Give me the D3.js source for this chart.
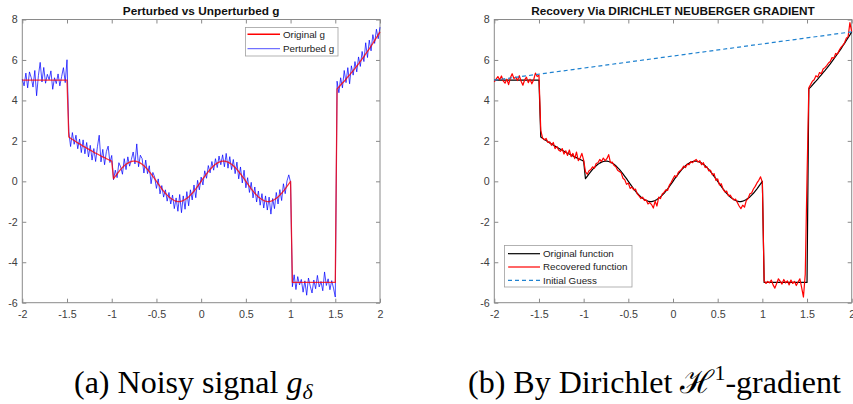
<!DOCTYPE html>
<html>
<head>
<meta charset="utf-8">
<script src="https://cdn.jsdelivr.net/npm/d3@7"></script>
<style>
  html, body { margin: 0; padding: 0; background: #fff; }
  svg { display: block; }
</style>
</head>
<body>
<script>
// Tick labels on both panels
const xTicks = [-2, -1.5, -1, -0.5, 0, 0.5, 1, 1.5, 2];
const yTicks = [-6, -4, -2, 0, 2, 4, 6, 8];

// Sample positions: -2 to 2 in steps of 0.02 (201 samples)
const xValues = d3.range(201).map(i => +(-2 + i * 0.02).toFixed(2));

// Original signal g
const originalG = [
  5, 5, 5, 5, 5, 5, 5, 5, 5, 5, 5, 5, 5, 5, 5, 5, 5, 5, 5, 5, 5, 5, 5, 5, 5, 5,
  2.19, 2.13, 2.07, 2.02, 1.96, 1.90, 1.85, 1.80, 1.74, 1.69, 1.64, 1.59, 1.54, 1.49, 1.44, 1.39, 1.35, 1.30, 1.25, 1.21, 1.17, 1.12, 1.08, 1.04, 1.00,
  0.13, 0.25, 0.37, 0.48, 0.59, 0.68, 0.77, 0.84, 0.90, 0.95, 0.98, 1.00, 1.00, 0.98, 0.95, 0.90, 0.84, 0.77, 0.68, 0.59, 0.48, 0.37, 0.25, 0.13, 0,
  -0.13, -0.25, -0.37, -0.48, -0.59, -0.68, -0.77, -0.84, -0.90, -0.95, -0.98, -1.00, -1.00, -0.98, -0.95, -0.90, -0.84, -0.77, -0.68, -0.59, -0.48, -0.37, -0.25, -0.13, 0,
  0.13, 0.25, 0.37, 0.48, 0.59, 0.68, 0.77, 0.84, 0.90, 0.95, 0.98, 1.00, 1.00, 0.98, 0.95, 0.90, 0.84, 0.77, 0.68, 0.59, 0.48, 0.37, 0.25, 0.13, 0,
  -0.13, -0.25, -0.37, -0.48, -0.59, -0.68, -0.77, -0.84, -0.90, -0.95, -0.98, -1.00, -1.00, -0.98, -0.95, -0.90, -0.84, -0.77, -0.68, -0.59, -0.48, -0.37, -0.25, -0.13, 0,
  -5, -5, -5, -5, -5, -5, -5, -5, -5, -5, -5, -5, -5, -5, -5, -5, -5, -5, -5, -5, -5, -5, -5, -5, -5,
  4.57, 4.66, 4.76, 4.86, 4.95, 5.05, 5.16, 5.26, 5.37, 5.47, 5.58, 5.70, 5.81, 5.93, 6.05, 6.17, 6.30, 6.42, 6.55, 6.69, 6.82, 6.96, 7.10, 7.24, 7.39
];

// Noisy signal g_delta
const perturbedG = [
  5.05, 4.72, 5.35, 4.62, 5.41, 5.12, 4.66, 5.48, 4.23, 5.22, 5.88, 4.91, 5.63, 4.85, 5.29, 5.02, 5.46, 4.55, 5.12, 4.83, 5.31, 4.72, 5.18, 5.62, 4.88, 6.01,
  2.45, 1.72, 2.41, 1.83, 2.28, 1.61, 2.09, 1.42, 2.05, 1.36, 1.92, 1.21, 1.78, 1.05, 1.62, 0.98, 1.71, 2.28, 0.96, 1.58, 0.82, 1.47, 1.74, 0.93, 1.28,
  0.08, 0.55, 0.18, 0.92, 0.71, 0.35, 1.12, 0.58, 1.21, 0.75, 1.08, 1.45, 0.86, 1.85, 0.72, 1.29, 1.12, 0.41, 1.05, 0.38, 0.77, -0.12, 0.44, 0.21, -0.35,
  0.12, -0.62, -0.21, -0.78, -0.42, -0.98, -0.55, -1.12, -0.68, -1.35, -0.82, -1.48, -0.65, -1.55, -0.72, -1.38, -0.51, -1.21, -0.42, -0.92, -0.18, -0.81, 0.05, -0.42, 0.21,
  -0.18, 0.52, 0.15, 0.78, 0.42, 0.98, 0.55, 1.12, 0.68, 1.25, 0.82, 1.31, 0.72, 1.38, 0.65, 1.22, 0.58, 1.08, 0.38, 0.95, 0.12, 0.71, -0.08, 0.55, -0.32,
  0.18, -0.55, -0.05, -0.82, -0.28, -1.02, -0.48, -1.18, -0.61, -1.32, -0.72, -1.42, -0.78, -1.62, -0.85, -1.35, -0.55, -1.12, -0.41, -0.95, -0.12, -0.61, 0.02, 0.32, -0.05,
  -5.21, -4.62, -5.35, -4.71, -5.12, -4.85, -5.48, -4.92, -5.63, -4.78, -5.18, -5.52, -4.88, -5.31, -4.65, -5.22, -4.95, -5.41, -4.48, -5.15, -4.82, -5.36, -4.91, -5.28, -5.72,
  4.95, 4.38, 5.12, 4.62, 5.48, 4.88, 5.62, 4.82, 5.71, 5.25, 5.92, 5.41, 6.15, 5.68, 6.42, 5.92, 6.85, 6.12, 6.98, 6.45, 7.25, 6.82, 7.52, 7.05, 7.62
];

// Recovered function after the Dirichlet Neuberger gradient iterations
const recoveredG = [
  4.92, 5.05, 5.18, 5.02, 5.21, 4.96, 4.85, 5.05, 4.78, 5.12, 5.32, 5.08, 5.15, 4.98, 5.22, 4.95, 4.75, 5.02, 5.15, 4.88, 5.05, 4.82, 5.01, 5.35, 5.18, 5.25,
  2.52, 2.15, 2.05, 2.12, 1.92, 1.95, 1.78, 1.92, 1.62, 1.72, 1.55, 1.48, 1.62, 1.35, 1.51, 1.28, 1.55, 1.22, 1.38, 1.12, 1.45, 1.02, 1.15, 1.38, 1.05,
  0.48, 0.35, 0.52, 0.58, 0.72, 0.65, 0.88, 0.92, 1.08, 0.98, 1.15, 1.02, 1.12, 1.32, 0.92, 0.95, 0.78, 0.72, 0.55, 0.48, 0.42, 0.15, 0.08, -0.15, -0.08,
  -0.35, -0.28, -0.42, -0.38, -0.62, -0.72, -0.85, -0.78, -0.95, -0.92, -1.12, -1.05, -1.15, -1.32, -0.98, -1.22, -0.78, -0.85, -0.62, -0.55, -0.42, -0.45, -0.18, -0.05, 0.12,
  0.28, 0.22, 0.45, 0.52, 0.62, 0.75, 0.68, 0.85, 0.82, 0.98, 0.92, 1.02, 1.08, 0.95, 1.02, 0.82, 0.92, 0.68, 0.72, 0.52, 0.55, 0.32, 0.38, 0.05, 0.12,
  -0.18, -0.12, -0.38, -0.52, -0.48, -0.72, -0.68, -0.82, -0.92, -0.88, -1.05, -1.22, -1.35, -1.18, -1.28, -0.95, -0.85, -0.62, -0.58, -0.38, -0.25, -0.08, 0.05, 0.22, -0.05,
  -4.92, -5.05, -4.95, -5.02, -4.88, -5.12, -5.28, -5.05, -4.82, -4.95, -5.08, -4.85, -5.02, -4.92, -5.12, -4.88, -5.05, -4.95, -5.15, -4.98, -4.82, -5.25, -5.72, -4.60, 0.20,
  4.62, 4.78, 4.95, 5.02, 5.22, 5.15, 5.38, 5.32, 5.55, 5.62, 5.72, 5.85, 5.92, 6.12, 6.08, 6.32, 6.28, 6.48, 6.62, 6.72, 6.85, 7.08, 7.15, 7.85, 7.39
];

// Initial guess: straight line joining the two boundary values
const initialGuessX = [-2, 2];
const initialGuessY = [5, 7.39];

const W = 853, H = 404;
const plotTop = 19.5, plotBottom = 302.7;

const svg = d3.select("body").append("svg")
  .attr("width", W).attr("height", H)
  .style("font-family", "'Liberation Sans', Arial, Helvetica, sans-serif");
svg.append("rect").attr("width", W).attr("height", H).attr("fill", "#fff");

const axisColor = "#8a8a8a";
const labelColor = "#404040";
const fmt = d => String(d);

function makePanel(left, right, title) {
  const x = d3.scaleLinear().domain([-2, 2]).range([left, right]);
  const y = d3.scaleLinear().domain([-6, 8]).range([plotBottom, plotTop]);
  const g = svg.append("g");

  const tick = 4;
  const bottom = g.append("g").attr("transform", `translate(0,${plotBottom})`)
    .call(d3.axisBottom(x).tickValues(xTicks).tickFormat(fmt).tickSizeInner(-tick).tickSizeOuter(0).tickPadding(7.7));
  const top = g.append("g").attr("transform", `translate(0,${plotTop})`)
    .call(d3.axisTop(x).tickValues(xTicks).tickFormat("").tickSizeInner(-tick).tickSizeOuter(0));
  const leftAx = g.append("g").attr("transform", `translate(${left},0)`)
    .call(d3.axisLeft(y).tickValues(yTicks).tickFormat(fmt).tickSizeInner(-tick).tickSizeOuter(0).tickPadding(4.5));
  const rightAx = g.append("g").attr("transform", `translate(${right},0)`)
    .call(d3.axisRight(y).tickValues(yTicks).tickFormat("").tickSizeInner(-tick).tickSizeOuter(0));

  [bottom, top, leftAx, rightAx].forEach(a => {
    a.select(".domain").remove();
    a.selectAll(".tick line").attr("stroke", axisColor).attr("stroke-width", 1);
    a.selectAll(".tick text").attr("fill", labelColor).style("font-size", "10.7px")
      .style("font-family", "'Liberation Sans', Arial, sans-serif");
  });

  g.append("rect")
    .attr("x", left).attr("y", plotTop)
    .attr("width", right - left).attr("height", plotBottom - plotTop)
    .attr("fill", "none").attr("stroke", axisColor).attr("stroke-width", 1);

  g.append("text")
    .attr("x", (left + right) / 2).attr("y", 14.5)
    .attr("text-anchor", "middle")
    .style("font-size", "11.8px").style("font-weight", "bold")
    .attr("fill", "#111")
    .text(title);

  return { x, y, g };
}

function seriesLine(p, xs, ys) {
  return d3.line().x(d => p.x(d[0])).y(d => p.y(d[1]))(xs.map((xv, i) => [xv, ys[i]]));
}

// ---- Panel (a): perturbed vs unperturbed ----
const pa = makePanel(22.3, 380, "Perturbed vs Unperturbed g");
pa.g.append("path").attr("d", seriesLine(pa, xValues, perturbedG))
  .attr("fill", "none").attr("stroke", "#0000ff").attr("stroke-opacity", 0.72)
  .attr("stroke-width", 1).attr("stroke-linejoin", "round");
pa.g.append("path").attr("d", seriesLine(pa, xValues, originalG))
  .attr("fill", "none").attr("stroke", "#ff0000").attr("stroke-opacity", 0.8)
  .attr("stroke-width", 1.3).attr("stroke-linejoin", "round");

// legend (a)
const la = pa.g.append("g");
la.append("rect").attr("x", 245.5).attr("y", 27.5).attr("width", 92.5).attr("height", 28.5)
  .attr("fill", "#fff").attr("stroke", "#a0a0a0").attr("stroke-width", 0.8);
[["Original g", "#ff0000", 1.6, 34.3], ["Perturbed g", "#5050ff", 1, 48.7]].forEach(([label, c, w, yy]) => {
  la.append("line").attr("x1", 247.5).attr("x2", 280).attr("y1", yy).attr("y2", yy)
    .attr("stroke", c).attr("stroke-width", w);
  la.append("text").attr("x", 283).attr("y", yy + 3.4)
    .style("font-size", "9.8px").attr("fill", "#222").text(label);
});

// ---- Panel (b): recovery ----
const pb = makePanel(494.3, 851.7, "Recovery Via DIRICHLET NEUBERGER GRADIENT");
pb.g.append("path").attr("d", seriesLine(pb, xValues, originalG))
  .attr("fill", "none").attr("stroke", "#000").attr("stroke-width", 1.2).attr("stroke-linejoin", "round");
pb.g.append("path").attr("d", seriesLine(pb, xValues, recoveredG))
  .attr("fill", "none").attr("stroke", "#ff0000").attr("stroke-width", 1.2).attr("stroke-linejoin", "round");
pb.g.append("path").attr("d", seriesLine(pb, initialGuessX, initialGuessY))
  .attr("fill", "none").attr("stroke", "#1f82d0").attr("stroke-width", 1.2)
  .attr("stroke-dasharray", "4,3");

// legend (b)
const lb = pb.g.append("g");
lb.append("rect").attr("x", 504.5).attr("y", 245.5).attr("width", 127.5).attr("height", 41.5)
  .attr("fill", "#fff").attr("stroke", "#a0a0a0").attr("stroke-width", 0.8);
[["Original function", "#000", null, 253.7], ["Recovered function", "#ff0000", null, 267], ["Initial Guess", "#1f82d0", "4,3", 280.3]]
  .forEach(([label, c, dash, yy]) => {
    lb.append("line").attr("x1", 508).attr("x2", 540).attr("y1", yy).attr("y2", yy)
      .attr("stroke", c).attr("stroke-width", 1.2).attr("stroke-dasharray", dash);
    lb.append("text").attr("x", 543).attr("y", yy + 3.4)
      .style("font-size", "9.8px").attr("fill", "#222").text(label);
  });

// ---- Captions ----
const capFont = "'Liberation Serif', 'DejaVu Serif', 'Times New Roman', serif";
const capA = svg.append("text").attr("x", 74).attr("y", 393)
  .style("font-family", capFont).style("font-size", "32px").attr("fill", "#000");
capA.append("tspan").text("(a) Noisy signal ");
capA.append("tspan").style("font-style", "italic").text("g");
capA.append("tspan").style("font-style", "italic").style("font-size", "22px").attr("dy", 6).text("δ");

const capB = svg.append("text").attr("x", 468).attr("y", 393)
  .style("font-family", capFont).style("font-size", "32px").attr("fill", "#000");
capB.append("tspan").text("(b) By Dirichlet ");
capB.append("tspan").style("font-family", "'DejaVu Serif', serif").text("ℋ");
capB.append("tspan").style("font-size", "22px").attr("dy", -13).text("1");
capB.append("tspan").attr("dy", 13).text("-gradient");
</script>
</body>
</html>
